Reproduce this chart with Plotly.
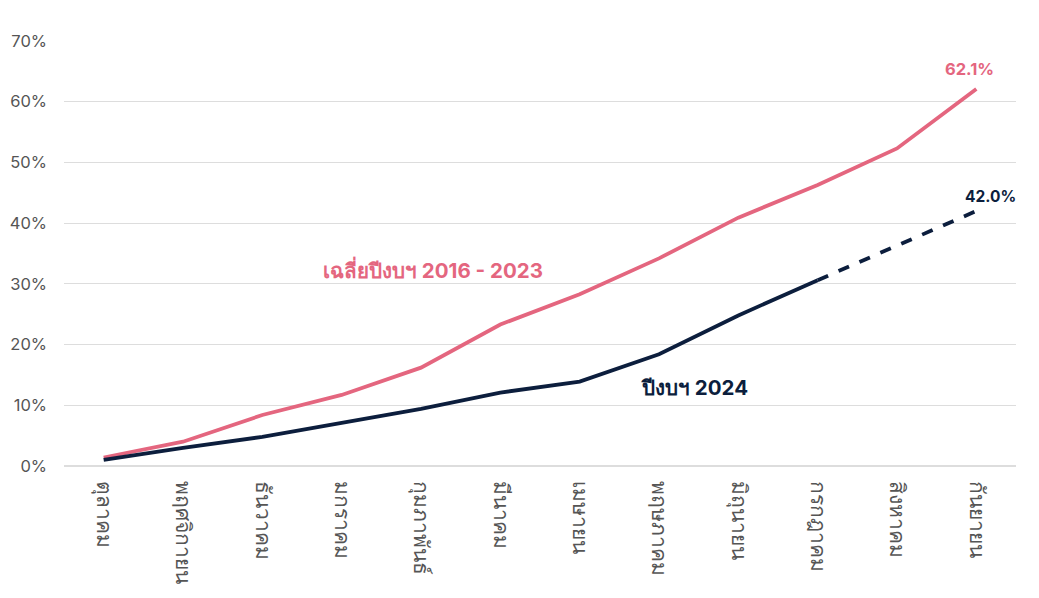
import plotly.graph_objects as go

months = ["ตุลาคม", "พฤศจิกายน", "ธันวาคม", "มกราคม", "กุมภาพันธ์", "มีนาคม",
          "เมษายน", "พฤษภาคม", "มิถุนายน", "กรกฎาคม", "สิงหาคม", "กันยายน"]
avg_2016_2023 = [1.4, 4.0, 8.4, 11.7, 16.2, 23.3, 28.3, 34.2, 40.9, 46.3, 52.3, 62.1]
fy2024_actual = [1.0, 3.0, 4.8, 7.1, 9.4, 12.1, 13.9, 18.4, 24.8, 30.6]
fy2024_proj_months = ["กรกฎาคม", "สิงหาคม", "กันยายน"]
fy2024_proj = [30.6, 36.3, 42.0]

PINK = "#E4667F"
NAVY = "#0C1E3D"
FONT = "Inter, Noto Sans, sans-serif"

fig = go.Figure()
fig.add_trace(go.Scatter(x=months, y=avg_2016_2023, mode="lines",
                         line=dict(color=PINK, width=3.8), hoverinfo="skip"))
fig.add_trace(go.Scatter(x=months[:len(fy2024_actual)], y=fy2024_actual, mode="lines",
                         line=dict(color=NAVY, width=3.8), hoverinfo="skip"))
fig.add_trace(go.Scatter(x=fy2024_proj_months, y=fy2024_proj, mode="lines",
                         line=dict(color=NAVY, width=3.8, dash="dash"), hoverinfo="skip"))

# page body has an 8px default margin
OFF = 8
W, H = 1039, 598
L, R, T, B = 64 - OFF, 23 + OFF, 41 - OFF, 132 + OFF
pw, ph = W - L - R, H - T - B

def px(x):
    return (x - OFF - L) / pw

def py(y):
    return (H - B - (y - OFF)) / ph

annotations = [
    dict(text="เฉลี่ยปีงบฯ 2016 - 2023", x=px(433), y=py(269), color=PINK, size=20.5),
    dict(text="ปีงบฯ 2024", x=px(694), y=py(387), color=NAVY, size=20.5),
    dict(text="62.1%", x=px(969), y=py(69), color=PINK, size=16.5),
    dict(text="42.0%", x=px(990), y=py(196), color=NAVY, size=15.5),
]

fig.update_layout(
    width=W, height=H,
    margin=dict(l=L, r=R, t=T, b=B),
    paper_bgcolor="white", plot_bgcolor="white",
    showlegend=False,
    font=dict(family=FONT, color="#555555", size=15),
    xaxis=dict(type="category", range=[-0.5, len(months) - 0.5], tickangle=90,
               showgrid=False, showline=False, ticklabelstandoff=14, automargin=False,
               ticks="", tickfont=dict(size=21, color="#555555"), fixedrange=True),
    yaxis=dict(range=[0, 70], dtick=10, ticksuffix="%", showgrid=True, automargin=False,
               gridcolor="#DDDDDD", gridwidth=1, zeroline=True, zerolinecolor="#DDDDDD",
               showline=False, ticks="", ticklabelstandoff=16,
               tickfont=dict(size=16.5, color="#555555"),
               fixedrange=True),
    annotations=[dict(text=f"<b>{a['text']}</b>", x=a["x"], y=a["y"], xref="paper", yref="paper",
                      showarrow=False, xanchor="center", yanchor="middle",
                      font=dict(family=FONT, size=a["size"], color=a["color"]))
                 for a in annotations],
)

fig.write_html("out.html")
